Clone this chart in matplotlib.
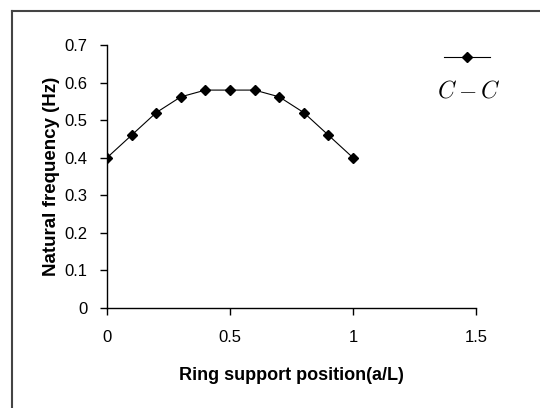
import matplotlib
matplotlib.use("Agg")
import matplotlib.pyplot as plt
from matplotlib.lines import Line2D

plt.rcParams['font.family'] = ['Liberation Sans', 'DejaVu Sans']
plt.rcParams['mathtext.fontset'] = 'cm'

# ring support position (a/L) vs natural frequency, C-C case
positions = [0.0, 0.1, 0.2, 0.3, 0.4, 0.5, 0.6, 0.7, 0.8, 0.9, 1.0]
freq_cc = [0.40, 0.46, 0.52, 0.562, 0.58, 0.58, 0.58, 0.562, 0.52, 0.46, 0.40]

x_ticks = [0, 0.5, 1, 1.5]
x_tick_labels = ['0', '0.5', '1', '1.5']
y_ticks = [0, 0.1, 0.2, 0.3, 0.4, 0.5, 0.6, 0.7]
y_tick_labels = ['0', '0.1', '0.2', '0.3', '0.4', '0.5', '0.6', '0.7']

fig = plt.figure(figsize=(5.4, 4.08), dpi=100)
ax = fig.add_axes([107/540, 1 - 308/408, (476 - 107)/540, (308 - 45)/408])

line, = ax.plot(positions, freq_cc, color='black', lw=0.8, marker='D',
                markersize=5.5, markerfacecolor='black', markeredgecolor='black')

ax.set_xlim(0, 1.5)
ax.set_ylim(0, 0.7)
ax.set_xticks(x_ticks)
ax.set_xticklabels(x_tick_labels)
ax.set_yticks(y_ticks)
ax.set_yticklabels(y_tick_labels)
for s in ['top', 'right']:
    ax.spines[s].set_visible(False)
for s in ['left', 'bottom']:
    ax.spines[s].set_linewidth(1.0)
ax.tick_params(direction='out', length=5, width=1, labelsize=12, colors='black')
ax.tick_params(axis='x', pad=11)
ax.tick_params(axis='y', pad=9)
ax.set_xlabel('Ring support position(a/L)', fontsize=13, fontweight='bold', labelpad=16)
ax.set_ylabel('Natural frequency (Hz)', fontsize=13.5, fontweight='bold', labelpad=3)

# legend: marker line with label underneath
ax.legend(handles=[line], labels=[''], loc='center',
          bbox_to_anchor=(467/540, 1 - 58/408), bbox_transform=fig.transFigure,
          frameon=False, handlelength=3.3, handletextpad=0, borderpad=0)
fig.text(469/540, 1 - 92/408, r'$C-C$', fontsize=17, ha='center', va='center')

# outer frame (only left and top edges visible)
fig.add_artist(Line2D([12/540, 12/540], [0, 1 - 11/408], transform=fig.transFigure,
                      color='#444444', lw=1.5))
fig.add_artist(Line2D([12/540, 1], [1 - 11/408, 1 - 11/408], transform=fig.transFigure,
                      color='#444444', lw=1.5))

fig.savefig('out.png', dpi=100)
